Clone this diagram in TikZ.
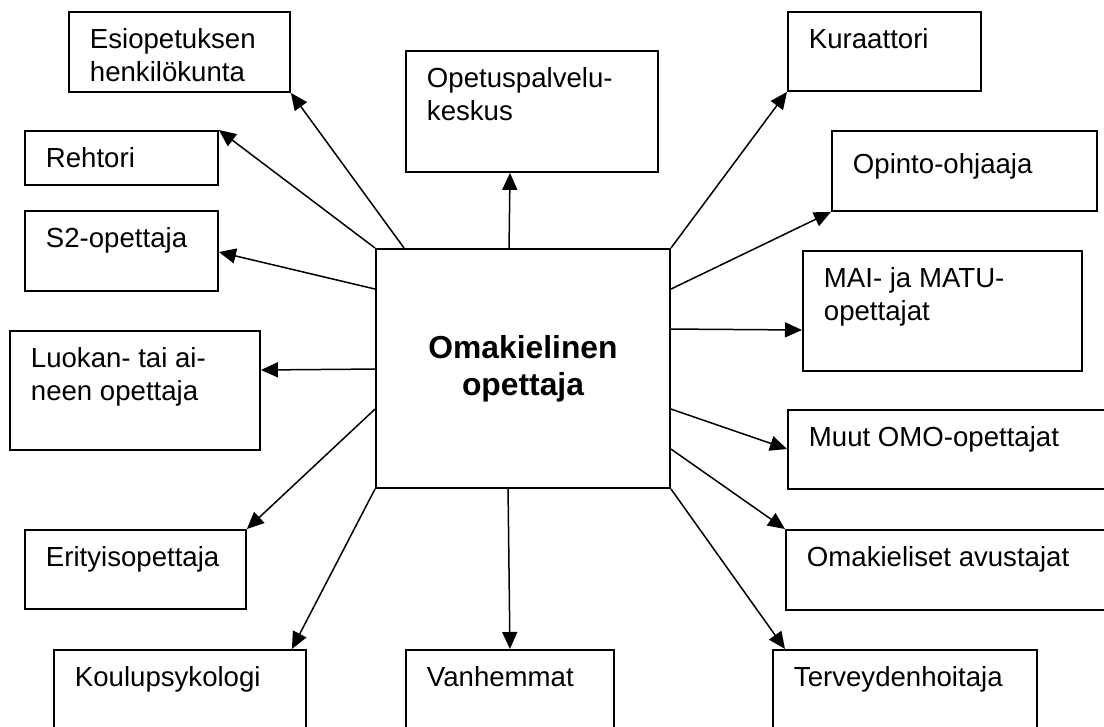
\documentclass[tikz,border=0pt]{standalone}
\usepackage{fontspec}
\setmainfont{Liberation Sans}
\usetikzlibrary{arrows.meta}
\begin{document}
\begin{tikzpicture}[x=1pt, y=-1pt, font=\fontsize{27.6}{32.5}\selectfont,
  taho/.style 2 args={draw, line width=1.9pt, anchor=north west, align=flush left, inner xsep=21pt, inner ysep=0pt, text width=#1, text height=37pt, text depth=#2},
  nuoli/.style={line width=1.5pt, -{Triangle[length=17pt,width=15pt]}}]
\useasboundingbox (0,0) rectangle (1104,727);
\clip (0,0) rectangle (1104,727);
\node[draw, line width=1.9pt, minimum width=294pt, minimum height=239pt, inner sep=0pt, align=center, font=\fontsize{31.8}{37}\selectfont\bfseries] (omo) at (523,368.5) {Omakielinen\\opettaja};
\node[taho={179pt}{43pt}] (esio) at (68,11) {Esiopetuksen\\henkilökunta};
\node[taho={151pt}{17pt}] (rehtori) at (24,130) {Rehtori};
\node[taho={151pt}{43pt}] (s2) at (24,210) {S2-opettaja};
\node[taho={208pt}{82pt}] (luokan) at (9,330) {Luokan- tai ai-\\neen opettaja};
\node[taho={179pt}{42pt}] (erit) at (24,529) {Erityisopettaja};
\node[taho={210pt}{63pt}] (koulu) at (53,649) {Koulupsykologi};
\node[taho={166pt}{63pt}] (vanh) at (405,649) {Vanhemmat};
\node[taho={222pt}{63pt}] (terv) at (772,649) {Terveydenhoitaja};
\node[taho={298pt}{43pt}] (avus) at (785,529) {Omakieliset avustajat};
\node[taho={298pt}{42pt}] (muut) at (787,409) {Muut OMO-opettajat};
\node[taho={237pt}{83pt}] (mai) at (802,250) {MAI- ja MATU-\\opettajat};
\node[taho={223pt}{37pt}, text height=43pt] (opinto) at (831,130) {Opinto-ohjaaja};
\node[taho={151pt}{42pt}] (kura) at (787,11) {Kuraattori};
\node[taho={210pt}{84pt}] (opetus) at (405,50) {Opetuspalvelu-\\keskus};
\draw[nuoli] ([shift={(29,0)}]omo.north west) -- (esio.south east);
\draw[nuoli] (omo.north west) -- (rehtori.north east);
\draw[nuoli] ([shift={(0,41)}]omo.north west) -- ([shift={(0,42)}]s2.north east);
\draw[nuoli] ([shift={(0,121)}]omo.north west) -- ([shift={(0,40)}]luokan.north east);
\draw[nuoli] ([shift={(0,161)}]omo.north west) -- (erit.north east);
\draw[nuoli] (omo.south west) -- ([shift={(-15,0)}]koulu.north east);
\draw[nuoli] ([shift={(133,0)}]omo.south west) -- (vanh.north);
\draw[nuoli] (omo.south east) -- ([shift={(13,0)}]terv.north west);
\draw[nuoli] ([shift={(0,201)}]omo.north east) -- (avus.north west);
\draw[nuoli] ([shift={(0,161)}]omo.north east) -- ([shift={(0,40)}]muut.north west);
\draw[nuoli] ([shift={(0,81)}]omo.north east) -- ([shift={(0,80)}]mai.north west);
\draw[nuoli] ([shift={(0,41)}]omo.north east) -- (opinto.south west);
\draw[nuoli] (omo.north east) -- (kura.south west);
\draw[nuoli] ([shift={(134,0)}]omo.north west) -- ([shift={(105,0)}]opetus.south west);
\end{tikzpicture}
\end{document}
